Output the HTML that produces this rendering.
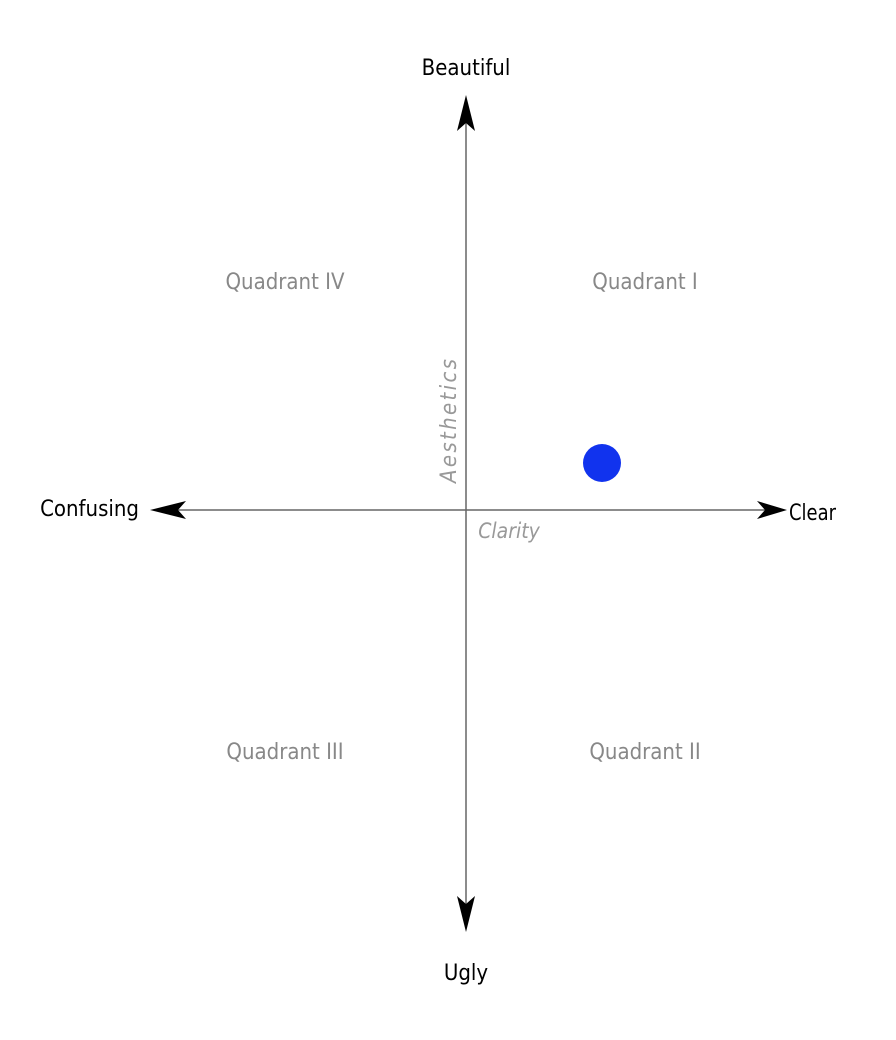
<!DOCTYPE html>
<html><head><meta charset="utf-8"><style>
html,body{margin:0;padding:0;background:#fff;}
svg{display:block;}
text{font-family:"DejaVu Sans Condensed","Liberation Sans Narrow","Liberation Sans",sans-serif;}
</style></head><body>
<svg width="896" height="1040" viewBox="0 0 896 1040" xmlns="http://www.w3.org/2000/svg">
<line x1="466" y1="110" x2="466" y2="915" stroke="#666" stroke-width="1.5"/>
<line x1="165" y1="510" x2="772" y2="510" stroke="#666" stroke-width="1.5"/>
<path d="M466,95 L475,131 L466,123 L457,131 Z" fill="#000"/>
<path d="M466,932 L475,896 L466,904 L457,896 Z" fill="#000"/>
<path d="M150,510 L186,501 L178,510 L186,519 Z" fill="#000"/>
<path d="M787,510 L757,501 L765,510 L757,519 Z" fill="#000"/>
<circle cx="602" cy="463" r="19" fill="#1133ee"/>
<g font-size="22" fill="#000">
<text x="466" y="75" text-anchor="middle">Beautiful</text>
<text x="466" y="980" text-anchor="middle">Ugly</text>
<text x="139" y="516" text-anchor="end">Confusing</text>
<text x="789" y="520" textLength="47" lengthAdjust="spacingAndGlyphs">Clear</text>
</g>
<g font-size="22" fill="#888">
<text x="285" y="289" text-anchor="middle">Quadrant IV</text>
<text x="645" y="289" text-anchor="middle">Quadrant I</text>
<text x="285" y="759" text-anchor="middle">Quadrant III</text>
<text x="645" y="759" text-anchor="middle">Quadrant II</text>
</g>
<text x="509" y="538" font-size="21" fill="#999" font-style="italic" text-anchor="middle">Clarity</text>
<text transform="translate(456,421) rotate(-90)" font-size="22" fill="#999" font-style="italic" text-anchor="middle" textLength="124" lengthAdjust="spacing">Aesthetics</text>
</svg>
</body></html>
